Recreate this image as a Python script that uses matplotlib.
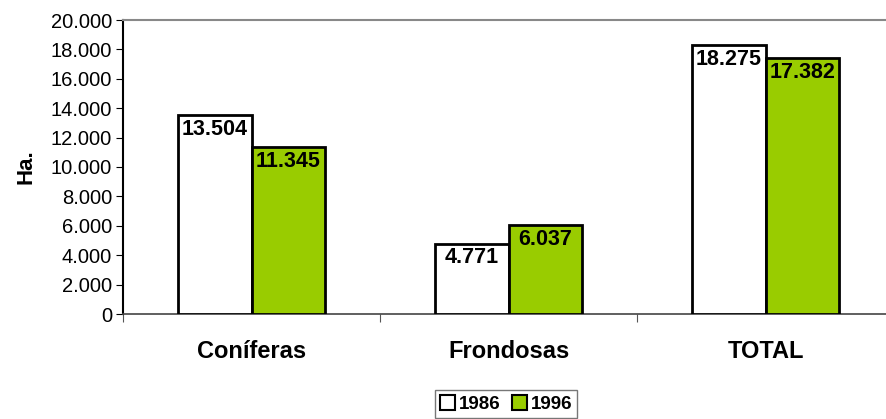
import matplotlib.pyplot as plt
import matplotlib.ticker as mticker
from matplotlib.patches import Patch
import numpy as np

plt.rcParams['font.family'] = ['Liberation Sans', 'DejaVu Sans']

categorias = ["Coníferas", "Frondosas", "TOTAL"]
anos = ["1986", "1996"]
valores_1986 = [13504, 4771, 18275]
valores_1996 = [11345, 6037, 17382]
colores = ["white", "#99cc00"]

fig = plt.figure(figsize=[8.86, 4.19], dpi=100)
# el area del grafico sale por la derecha de la imagen, como en el original
ax = fig.add_axes([123 / 886, 1 - 314 / 419, 771 / 886, 294 / 419])

x = np.arange(len(categorias))
ancho = 0.287

def miles(v):
    return f"{int(v):,}".replace(",", ".")

for i, (vals, col) in enumerate(zip([valores_1986, valores_1996], colores)):
    pos = x + (i - 0.5) * ancho
    ax.bar(pos, vals, width=ancho, color=col, edgecolor="black", linewidth=2, zorder=3)
    for p, v in zip(pos, vals):
        ax.annotate(miles(v), (p, v), xytext=(0, -2.5), textcoords="offset points",
                    ha="center", va="top", fontsize=15.5, fontweight="bold", zorder=4)

ax.set_xlim(-0.5, 2.5)
ax.set_ylim(0, 20000)
ax.yaxis.set_major_locator(mticker.MultipleLocator(2000))
ax.yaxis.set_major_formatter(mticker.FuncFormatter(lambda v, p: miles(v)))
ax.set_xticks([-0.5, 0.5, 1.5])
ax.set_xticklabels([])
ax.set_xticks(x, minor=True)
ax.set_xticklabels(categorias, minor=True, fontsize=17, fontweight="bold")
ax.tick_params(axis="x", which="minor", length=0, pad=19)
ax.tick_params(axis="x", which="major", length=6, color="#555555", direction="out")
ax.tick_params(axis="y", labelsize=14.5, length=5, direction="out", pad=3)

ax.spines["right"].set_visible(False)
ax.spines["top"].set_color("#888888")
ax.spines["top"].set_linewidth(1.5)
ax.spines["left"].set_linewidth(1.5)
ax.spines["bottom"].set_color("#444444")
ax.spines["bottom"].set_linewidth(1.2)

ax.set_ylabel("Ha.", fontsize=16, fontweight="bold", labelpad=10)

handles = [Patch(facecolor=c, edgecolor="black", linewidth=1.5) for c in colores]
leg = fig.legend(handles, anos, loc="center", bbox_to_anchor=(506 / 886, 1 - 404 / 419),
                 ncol=2, frameon=True, fancybox=False, prop={"weight": "bold", "size": 13.5},
                 handlelength=0.8, handleheight=0.8, handletextpad=0.2, columnspacing=0.6,
                 borderpad=0.25, borderaxespad=0)
leg.get_frame().set_edgecolor("#555555")
leg.get_frame().set_linewidth(1)

plt.savefig("out.png")
